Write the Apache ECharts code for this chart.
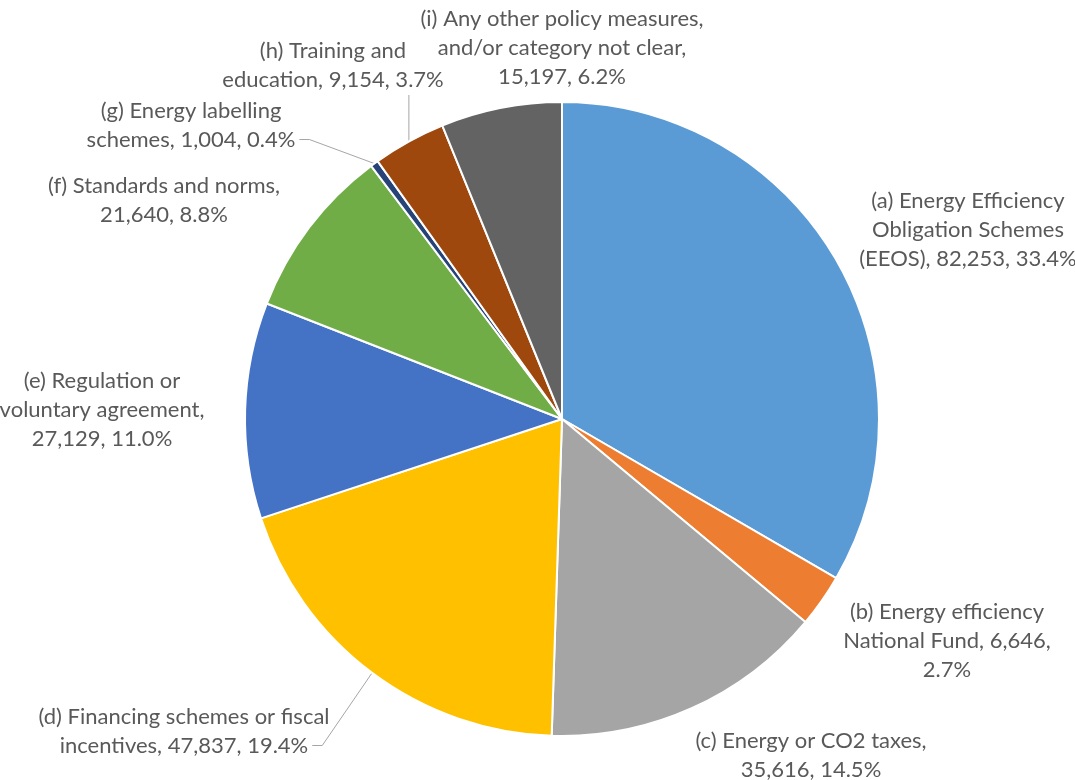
<!DOCTYPE html>
<html>
<head>
<meta charset="utf-8">
<script src="https://cdn.jsdelivr.net/npm/echarts@6/dist/echarts.min.js"></script>
<style>
  html, body { margin: 0; padding: 0; background: #ffffff; }
  #chart { width: 1075px; height: 780px; }
</style>
</head>
<body>
<div id="chart"></div>
<script>
// Energy savings by policy measure category
const categories = [
  '(a) Energy Efficiency\nObligation Schemes\n(EEOS)',
  '(b) Energy efficiency\nNational Fund',
  '(c) Energy or CO2 taxes',
  '(d) Financing schemes or fiscal\nincentives',
  '(e) Regulation or\nvoluntary agreement',
  '(f) Standards and norms',
  '(g) Energy labelling\nschemes',
  '(h) Training and\neducation',
  '(i) Any other policy measures,\nand/or category not clear'
];
const values = [82253, 6646, 35616, 47837, 27129, 21640, 1004, 9154, 15197];
// where the value / percentage part of each label starts a new line
const lineBreaks = ['', 'pct', 'value', '', 'value', 'value', '', '', 'value'];
const colors = ['#5B9BD5', '#ED7D31', '#A5A5A5', '#FFC000', '#4472C4',
                '#70AD47', '#264478', '#9E480E', '#636363'];
// leader line kind per slice: '' none, 'down' straight down from the label,
// 'side' elbow into the end of the label's last line
const leaderLines = ['', '', '', 'side', '', '', 'side', 'down', ''];

// label block centres
const labelAnchors = [
  [968, 230], [947, 641], [811, 755], [184, 731], [102, 410],
  [164, 200], [191, 125], [333, 65], [562, 48]
];

const FONT_SIZE = 22;
const FONT_FAMILY = 'Lato';

const total = values.reduce((s, v) => s + v, 0);
const fmtNum = v => v.toLocaleString('en-US');

function labelText(name, value, i) {
  const pct = (value / total * 100).toFixed(1) + '%';
  const num = fmtNum(value);
  if (lineBreaks[i] === 'value') return name + ',\n' + num + ', ' + pct;
  if (lineBreaks[i] === 'pct') return name + ', ' + num + ',\n' + pct;
  return name + ', ' + num + ', ' + pct;
}

const measureCtx = document.createElement('canvas').getContext('2d');
function lastLineWidth(i) {
  measureCtx.font = FONT_SIZE + 'px ' + FONT_FAMILY;
  const lines = labelText(categories[i], values[i], i).split('\n');
  return measureCtx.measureText(lines[lines.length - 1]).width;
}

const chart = echarts.init(document.getElementById('chart'));
chart.setOption({
  backgroundColor: '#ffffff',
  animation: false,
  series: [{
    type: 'pie',
    center: [562, 419],
    radius: [0, 317],
    startAngle: 90,
    clockwise: true,
    avoidLabelOverlap: false,
    itemStyle: { borderColor: '#ffffff', borderWidth: 2 },
    label: {
      show: true,
      position: 'outside',
      color: '#595959',
      fontFamily: FONT_FAMILY,
      fontSize: FONT_SIZE,
      lineHeight: 29,
      align: 'center',
      formatter: p => labelText(p.name, p.value, p.dataIndex)
    },
    labelLine: {
      length: 12,
      length2: 10,
      smooth: false,
      lineStyle: { color: '#A6A6A6', width: 1 }
    },
    labelLayout: params => {
      const i = params.dataIndex;
      const [ax, ay] = labelAnchors[i];
      const out = { x: ax, y: ay, align: 'center', verticalAlign: 'middle' };
      const pts = params.labelLinePoints;
      if (leaderLines[i] && pts) {
        const p0 = pts[0];
        const h = params.labelRect.height;
        if (leaderLines[i] === 'down') {
          out.labelLinePoints = [p0, [p0[0], ay + h / 2 + 1]];
        } else {
          const lineY = ay + h / 2 - 29 / 2;
          const endX = ax + lastLineWidth(i) / 2 + 4;
          out.labelLinePoints = [p0, [endX + 10, lineY], [endX, lineY]];
        }
      }
      return out;
    },
    data: categories.map((name, i) => ({
      name,
      value: values[i],
      itemStyle: { color: colors[i] },
      labelLine: { show: !!leaderLines[i] }
    }))
  }]
});
</script>
</body>
</html>
